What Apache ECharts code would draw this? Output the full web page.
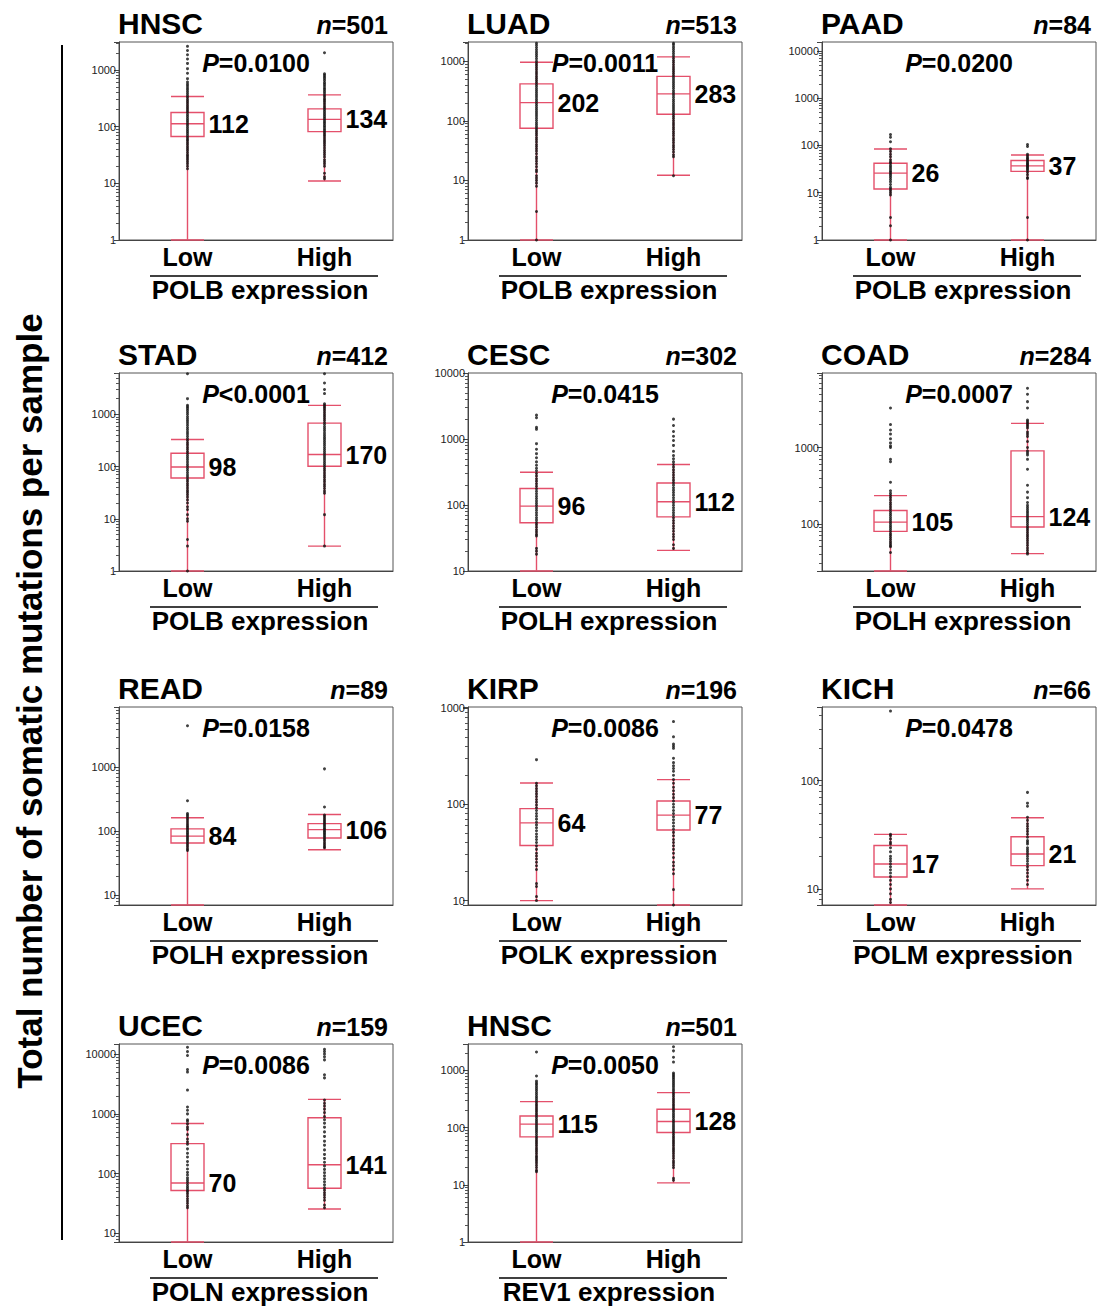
<!DOCTYPE html>
<html><head><meta charset="utf-8">
<script src="https://cdn.jsdelivr.net/npm/echarts@6/dist/echarts.min.js"></script>
<style>html,body{margin:0;padding:0;background:#fff}#chart{width:1101px;height:1313px}</style>
</head><body><div id="chart"></div>
<script>
// ---------------- DATA ----------------
const cancerTypes = ['HNSC','LUAD','PAAD','STAD','CESC','COAD','READ','KIRP','KICH','UCEC','HNSC'];
const sampleSizes = [501, 513, 84, 412, 302, 284, 89, 196, 66, 159, 501];
const pOperators = ['=', '=', '=', '<', '=', '=', '=', '=', '=', '=', '='];
const pValues = ['0.0100','0.0011','0.0200','0.0001','0.0415','0.0007','0.0158','0.0086','0.0478','0.0086','0.0050'];
const genes = ['POLB','POLB','POLB','POLB','POLH','POLH','POLH','POLK','POLM','POLN','REV1'];
const groups = ['Low', 'High'];
const yAxisMin = [1, 1, 1, 1, 10, 24, 7, 9, 7.1, 7.2, 1];
const yAxisMax = [3100, 2100, 15500, 6200, 10000, 9500, 8850, 1020, 480, 14750, 2900];
// [lower whisker, Q1, median, Q3, upper whisker]
const boxLow = [
  [1, 67, 112, 177, 339],
  [1, 75, 202, 417, 960],
  [1, 12, 26, 42, 84],
  [1, 60.5, 98, 180, 330],
  [10, 53.7, 96, 178, 313],
  [24, 79.4, 105, 149, 234],
  [7, 65.4, 84, 109, 163],
  [10, 37.3, 64, 90, 166],
  [7.1, 12.9, 17, 25.2, 31.9],
  [7.2, 52.2, 70, 318, 690],
  [1, 69, 115, 160, 285]
];
const boxHigh = [
  [11, 81.5, 134, 205, 362],
  [12.2, 129, 283, 556, 1180],
  [1, 28.3, 37, 48.3, 63],
  [3.0, 101.5, 170, 681, 1490],
  [20.5, 66, 112, 215, 410],
  [40.6, 90.5, 124, 905, 2075],
  [51.4, 78.5, 106, 132, 183],
  [9, 54, 77, 108, 180],
  [10, 16.4, 21, 30.3, 45.5],
  [25.7, 57, 141, 861, 1750],
  [10.8, 82, 128, 210, 409]
];
const dotsLow = [
  [2600, 2200, 1850, 1550, 1300, 1050, 870, 700, 610, 560, 520, 480, 445, 410, 380, 350, 325, 300, 278, 257, 238, 220, 204, 189, 175, 162, 150, 139, 129, 120, 111, 103, 95, 88, 82, 76, 70, 65, 60, 56, 52, 48, 44, 41, 38, 35, 32, 30, 28, 26, 24, 22, 20, 18],
  [2000, 1850, 1700, 1550, 1420, 1300, 1200, 1100, 1000, 920, 850, 780, 720, 660, 610, 560, 515, 475, 440, 405, 375, 345, 320, 295, 272, 250, 230, 212, 195, 180, 166, 153, 141, 130, 120, 110, 101, 93, 86, 79, 73, 67, 62, 57, 52, 48, 44, 40, 37, 34, 31, 28, 25, 23, 21, 19, 17, 15, 14, 12, 11, 10, 9, 8, 3, 1],
  [170, 150, 120, 85, 75, 65, 58, 50, 45, 42, 38, 35, 32, 29, 27, 25, 23, 21, 19, 17, 15, 13, 12, 11, 10, 9, 3, 2, 1],
  [6000, 2000, 1500, 1400, 1300, 1200, 1100, 1000, 900, 820, 750, 680, 620, 560, 510, 460, 420, 380, 345, 315, 285, 260, 235, 215, 195, 178, 162, 148, 135, 122, 111, 101, 92, 84, 76, 69, 63, 57, 52, 47, 43, 39, 35, 32, 29, 26, 23, 20, 17, 15, 12, 10, 9, 4, 3, 1],
  [2300, 2100, 1500, 1400, 850, 700, 600, 520, 450, 400, 360, 330, 300, 275, 250, 230, 210, 192, 176, 161, 148, 136, 125, 115, 106, 98, 90, 83, 76, 70, 64, 59, 54, 50, 46, 42, 39, 36, 34, 22, 20, 18],
  [3300, 2000, 1700, 1500, 1300, 1150, 1050, 1000, 700, 650, 350, 270, 250, 235, 220, 205, 190, 178, 166, 155, 145, 136, 128, 120, 113, 106, 100, 94, 89, 84, 79, 74, 70, 66, 62, 58, 55, 52, 50, 42],
  [4500, 300, 190, 180, 170, 160, 150, 140, 130, 122, 115, 108, 102, 96, 91, 86, 81, 77, 73, 69, 65, 61, 57, 53, 50],
  [290, 165, 155, 145, 136, 128, 120, 112, 105, 98, 92, 86, 80, 75, 70, 65, 61, 57, 53, 49, 46, 43, 40, 37, 34, 31, 29, 27, 25, 23, 21, 15, 14, 11, 10],
  [440, 32, 31, 29, 27, 26, 24, 22, 20, 19, 18, 17, 16, 15, 14, 13, 12, 11, 10, 9, 8, 7.5],
  [13000, 11000, 9500, 5500, 5000, 2500, 1300, 1150, 1000, 800, 750, 680, 600, 550, 450, 380, 340, 310, 260, 220, 190, 160, 140, 120, 105, 95, 85, 78, 72, 66, 61, 57, 53, 50, 46, 42, 38, 35, 32, 29, 27],
  [2100, 800, 650, 600, 560, 520, 480, 445, 410, 380, 350, 325, 300, 278, 257, 238, 220, 204, 189, 175, 162, 150, 139, 129, 120, 111, 103, 95, 88, 82, 76, 70, 65, 60, 56, 52, 48, 44, 41, 38, 35, 32, 30, 28, 26, 24, 22, 20, 18, 17]
];
const dotsHigh = [
  [2000, 850, 800, 750, 700, 650, 600, 560, 520, 480, 450, 420, 390, 360, 335, 310, 290, 270, 250, 230, 215, 200, 186, 173, 161, 150, 140, 130, 121, 113, 105, 98, 91, 85, 79, 73, 68, 63, 58, 54, 50, 46, 42, 38, 35, 32, 29, 26, 24, 22, 20, 15, 13, 12],
  [2000, 1880, 1720, 1580, 1450, 1330, 1220, 1120, 1030, 950, 870, 800, 735, 675, 620, 570, 525, 485, 445, 410, 378, 348, 320, 294, 270, 248, 228, 210, 193, 178, 164, 151, 139, 128, 118, 109, 100, 92, 85, 78, 72, 66, 61, 56, 51, 47, 43, 39, 36, 33, 30, 27, 25, 12],
  [105, 95, 65, 60, 55, 52, 48, 45, 42, 40, 38, 36, 34, 32, 30, 27, 24, 21, 20, 3, 1],
  [6000, 4000, 3000, 2500, 1600, 1500, 1400, 1300, 1200, 1100, 1000, 920, 840, 770, 700, 640, 580, 530, 485, 440, 400, 365, 335, 305, 280, 255, 232, 212, 193, 176, 160, 146, 133, 121, 110, 100, 91, 83, 75, 68, 62, 56, 51, 46, 42, 38, 34, 31, 12, 3],
  [2000, 1600, 1300, 1100, 950, 800, 650, 560, 500, 450, 410, 375, 340, 310, 285, 260, 238, 218, 200, 183, 168, 154, 141, 129, 118, 108, 99, 91, 83, 76, 70, 64, 58, 53, 48, 44, 40, 36, 33, 30, 25, 22],
  [6000, 5000, 4000, 3300, 2300, 2200, 2100, 2000, 1900, 1800, 1600, 1500, 1400, 1200, 1000, 900, 850, 800, 700, 520, 320, 260, 220, 190, 175, 165, 155, 146, 138, 130, 123, 116, 110, 104, 98, 92, 87, 82, 77, 72, 68, 64, 60, 56, 52, 48, 45, 42, 40],
  [950, 240, 180, 170, 160, 150, 142, 134, 127, 120, 113, 107, 101, 96, 91, 86, 81, 76, 71, 66, 62, 58, 55],
  [720, 500, 420, 400, 380, 300, 270, 250, 235, 220, 200, 180, 165, 150, 138, 127, 117, 108, 100, 93, 86, 80, 74, 69, 64, 59, 55, 51, 47, 43, 40, 37, 34, 31, 28, 25, 23, 21, 19, 13, 9],
  [78, 62, 58, 46, 43, 40, 38, 36, 34, 32, 30, 28, 27, 26, 24, 23, 22, 21, 20, 19, 18, 17, 16, 15, 14, 13, 12, 11],
  [12000, 11000, 10000, 9000, 8000, 4500, 4000, 1700, 1500, 1350, 1200, 1050, 900, 800, 700, 600, 500, 420, 350, 300, 250, 210, 180, 155, 135, 118, 104, 92, 82, 73, 65, 58, 53, 48, 44, 40, 36, 30, 27],
  [2600, 2200, 1700, 1400, 900, 850, 800, 750, 700, 650, 600, 555, 515, 475, 440, 408, 378, 350, 324, 300, 278, 257, 238, 220, 204, 189, 175, 162, 150, 139, 129, 120, 111, 103, 95, 88, 82, 76, 70, 65, 60, 56, 52, 48, 44, 41, 38, 35, 32, 29, 26, 24, 22, 20, 13, 12]
];
const yAxisTitle = 'Total number of somatic mutations per sample';

// ---------------- LAYOUT / STYLE ----------------
const FONT = "'Liberation Sans', Arial, Helvetica, sans-serif";
const RED = '#e4506b';
const colLeft = [119, 468, 822];
const rowTop = [42, 373, 707, 1044];
const plotW = 274, plotH = 198;

const grid = [], xAxis = [], yAxis = [], series = [], graphic = [];

function logLabel(v) {
  const l = Math.log10(v);
  return Math.abs(l - Math.round(l)) < 1e-6 ? String(Math.round(v)) : '';
}

cancerTypes.forEach((ct, i) => {
  const L = colLeft[i % 3], T = rowTop[Math.floor(i / 3)];
  grid.push({left: L, top: T, width: plotW, height: plotH, show: true,
    borderColor: '#555', borderWidth: 1, backgroundColor: 'transparent'});
  xAxis.push({
    type: 'category', gridIndex: i, data: groups, boundaryGap: true,
    axisLine: {show: true, lineStyle: {color: '#444', width: 1}},
    axisTick: {show: false},
    axisLabel: {fontSize: 25, fontWeight: 'bold', color: '#000', fontFamily: FONT, margin: 4},
    name: genes[i] + ' expression', nameLocation: 'middle', nameGap: 37,
    nameTextStyle: {fontSize: 26, fontWeight: 'bold', color: '#000', fontFamily: FONT, padding: [0, 0, 0, 8]}
  });
  yAxis.push({
    type: 'log', logBase: 10, gridIndex: i, min: yAxisMin[i], max: yAxisMax[i],
    axisLine: {show: true, lineStyle: {color: '#444', width: 1}},
    axisTick: {show: true, length: 5, lineStyle: {color: '#444'}},
    minorTick: {show: true, splitNumber: 9, length: 3, lineStyle: {color: '#555'}},
    splitLine: {show: false}, minorSplitLine: {show: false},
    axisLabel: {fontSize: 11, color: '#222', fontFamily: FONT, margin: 3, formatter: logLabel}
  });
  series.push({
    type: 'boxplot', xAxisIndex: i, yAxisIndex: i, silent: true,
    data: [boxLow[i], boxHigh[i]], boxWidth: [33, 33],
    itemStyle: {color: 'rgba(255,255,255,0)', borderColor: RED, borderWidth: 1.4},
    z: 2
  });
  series.push({
    type: 'scatter', xAxisIndex: i, yAxisIndex: i, silent: true, clip: true,
    data: dotsLow[i].map(v => [0, v]).concat(dotsHigh[i].map(v => [1, v])),
    symbolSize: 3, itemStyle: {color: '#111'}, z: 3
  });
  series.push({
    type: 'scatter', xAxisIndex: i, yAxisIndex: i, silent: true,
    data: [[0, boxLow[i][2]], [1, boxHigh[i][2]]],
    symbolSize: 0, itemStyle: {color: '#000', opacity: 1},
    label: {show: true, position: 'right', distance: 21, formatter: p => String(p.value[1]),
      fontSize: 25, fontWeight: 'bold', color: '#000', opacity: 1, textBorderWidth: 0, fontFamily: FONT},
    z: 4
  });
  graphic.push({type: 'text', x: L - 1, y: T - 19, silent: true,
    style: {text: ct, fontSize: 30, fontWeight: 'bold', fontFamily: FONT, fill: '#000',
      textAlign: 'left', textVerticalAlign: 'middle'}});
  graphic.push({type: 'text', x: L + plotW - 5, y: T - 17, silent: true,
    style: {text: '{i|n}=' + sampleSizes[i], fontSize: 25, fontWeight: 'bold', fontFamily: FONT, fill: '#000',
      textAlign: 'right', textVerticalAlign: 'middle',
      rich: {i: {fontStyle: 'italic', fontSize: 25, fontWeight: 'bold', fontFamily: FONT, fill: '#000'}}}});
  graphic.push({type: 'text', x: L + plotW / 2, y: T + 21, silent: true,
    style: {text: '{i|P}' + pOperators[i] + pValues[i], fontSize: 25, fontWeight: 'bold', fontFamily: FONT, fill: '#000',
      textAlign: 'center', textVerticalAlign: 'middle',
      rich: {i: {fontStyle: 'italic', fontSize: 25, fontWeight: 'bold', fontFamily: FONT, fill: '#000'}}}});
  graphic.push({type: 'line', silent: true,
    shape: {x1: L + 31, y1: T + 234, x2: L + plotW - 15, y2: T + 234},
    style: {stroke: '#000', lineWidth: 1.5}});
});

graphic.push({type: 'line', silent: true, shape: {x1: 62, y1: 45, x2: 62, y2: 1240},
  style: {stroke: '#000', lineWidth: 2}});
graphic.push({type: 'text', x: 29, y: 701, rotation: Math.PI / 2, silent: true,
  style: {text: yAxisTitle, fontSize: 35, fontWeight: 'bold', fontFamily: FONT, fill: '#000',
    textAlign: 'center', textVerticalAlign: 'middle'}});

const chart = echarts.init(document.getElementById('chart'), null, {renderer: 'svg'});
chart.setOption({
  animation: false,
  backgroundColor: '#fff',
  grid, xAxis, yAxis, series, graphic
});
</script></body></html>
